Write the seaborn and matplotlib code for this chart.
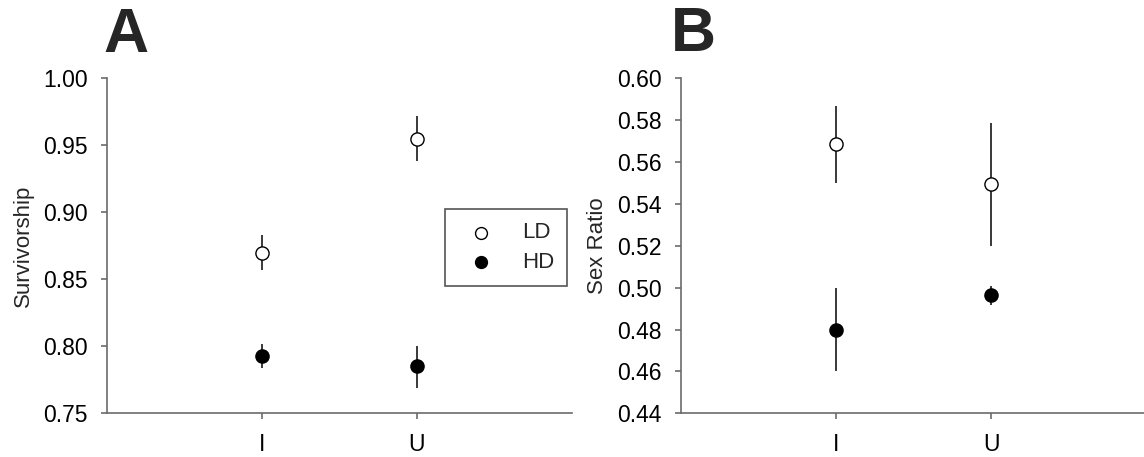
import matplotlib
matplotlib.use("Agg")
import matplotlib.pyplot as plt
import seaborn as sns
import numpy as np
import pandas as pd

# ---- data ----
groups = ["I", "U"]
series = ["LD", "HD"]

surv_LD = [0.870, 0.955]
surv_LD_lo = [0.857, 0.938]
surv_LD_hi = [0.883, 0.972]
surv_HD = [0.793, 0.785]
surv_HD_lo = [0.784, 0.769]
surv_HD_hi = [0.802, 0.800]

sex_LD = [0.5685, 0.5496]
sex_LD_lo = [0.5502, 0.5200]
sex_LD_hi = [0.5866, 0.5785]
sex_HD = [0.4798, 0.4963]
sex_HD_lo = [0.4600, 0.4917]
sex_HD_hi = [0.4998, 0.5010]

surv_ticks = [0.75, 0.80, 0.85, 0.90, 0.95, 1.00]
sex_ticks = [0.44, 0.46, 0.48, 0.50, 0.52, 0.54, 0.56, 0.58, 0.60]

sns.set_style("ticks")
plt.rcParams["font.family"] = ["Liberation Sans", "DejaVu Sans"]

fig = plt.figure(figsize=(11.44, 4.57), dpi=100)
axA = fig.add_axes([0.0935, 0.0956, 0.4065, 0.733])
axB = fig.add_axes([0.5953, 0.0956, 0.4065, 0.733])

spine_col = "#6b6b6b"
err_col = "#2a2a2a"
face = {"LD": "white", "HD": "black"}


def draw(ax, vals, ylabel, ticks, fmt):
    for name in series:
        mean, lo, hi = vals[name]
        df = pd.DataFrame({"g": groups, "v": mean})
        sns.scatterplot(data=df, x="g", y="v", ax=ax, s=90, color=face[name],
                        edgecolor="black", linewidth=1.0, zorder=3, label=name,
                        legend=False)
        m = np.array(mean)
        ax.errorbar(groups, m, yerr=[m - np.array(lo), np.array(hi) - m],
                    fmt="none", ecolor=err_col, elinewidth=1.3, capsize=0, zorder=1)
    ax.set_xlim(-1, 2)
    ax.set_ylim(ticks[0], ticks[-1])
    ax.set_yticks(ticks)
    ax.set_yticklabels([fmt.format(t) for t in ticks])
    ax.set_xlabel("")
    ax.set_ylabel(ylabel, fontsize=16)
    ax.yaxis.set_label_coords(-0.158, 0.5)
    for s in ["top", "right"]:
        ax.spines[s].set_visible(False)
    for s in ["left", "bottom"]:
        ax.spines[s].set_color(spine_col)
        ax.spines[s].set_linewidth(1.2)
    ax.tick_params(axis="both", which="major", labelsize=16.5, length=4,
                   width=1.2, color=spine_col, labelcolor="black", pad=10,
                   direction="out")


draw(axA, {"LD": (surv_LD, surv_LD_lo, surv_LD_hi),
           "HD": (surv_HD, surv_HD_lo, surv_HD_hi)},
     "Survivorship", surv_ticks, "{:.2f}")
draw(axB, {"LD": (sex_LD, sex_LD_lo, sex_LD_hi),
           "HD": (sex_HD, sex_HD_lo, sex_HD_hi)},
     "Sex Ratio", sex_ticks, "{:.2f}")

leg = axA.legend(loc="upper left", bbox_to_anchor=(0.727, 0.609),
                 borderaxespad=0, fontsize=16, frameon=True, fancybox=False,
                 framealpha=1, edgecolor="#555555", handlelength=2.07,
                 handletextpad=0.8, labelspacing=0.4, borderpad=0.59,
                 markerscale=0.9)
leg.get_frame().set_linewidth(1.2)

fig.text(103 / 1144, 1 - 52 / 457, "A", fontsize=45, fontweight="bold",
         ha="left", va="baseline")
fig.text(671 / 1144, 1 - 51 / 457, "B", fontsize=45, fontweight="bold",
         ha="left", va="baseline")

fig.savefig("out.png", dpi=100)
